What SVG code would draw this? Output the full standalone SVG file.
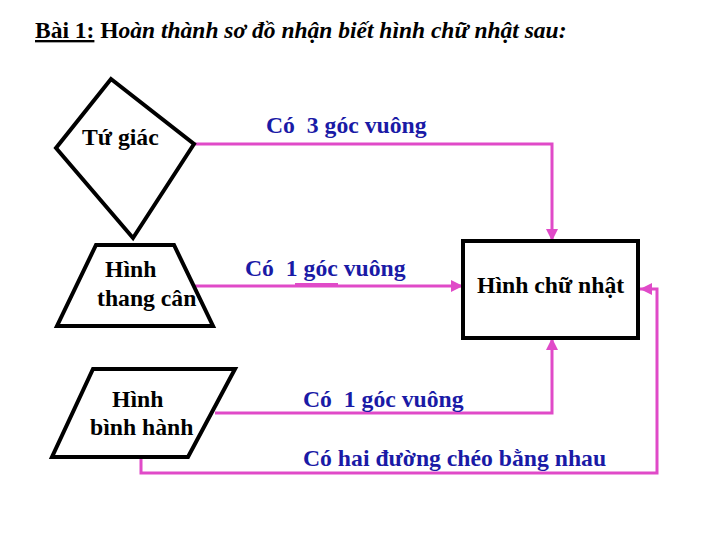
<svg xmlns="http://www.w3.org/2000/svg" width="720" height="540" viewBox="0 0 720 540">
<defs>
<style>
.shape{fill:#fff;stroke:#000;stroke-width:4;stroke-linejoin:miter}
.lbl{font-family:"Liberation Serif","Times New Roman",serif;font-weight:bold;font-size:23.7px;fill:#000}
.blue{font-family:"Liberation Serif","Times New Roman",serif;font-weight:bold;font-size:23.7px;fill:#1a1aa6}
.con{fill:none;stroke:#e04ac8;stroke-width:3}
</style>
<marker id="ah" markerUnits="userSpaceOnUse" markerWidth="12" markerHeight="12" viewBox="0 0 10 10" refX="10" refY="5" orient="auto">
<path d="M0,0 L10,5 L0,10 Z" fill="#e04ac8"/>
</marker>
</defs>
<rect width="720" height="540" fill="#fff"/>
<text x="35" y="38" font-family="Liberation Serif, Times New Roman, serif" font-weight="bold" font-size="23.5" fill="#000"><tspan text-decoration="underline">Bài 1:</tspan> H<tspan font-style="italic">oàn thành sơ đồ nhận biết hình chữ nhật sau:</tspan></text>
<g id="connectors">
<path class="con" d="M194,144 H552 V241" marker-end="url(#ah)"/>
<path class="con" d="M192,286 H463" marker-end="url(#ah)"/>
<line x1="295" y1="284" x2="338" y2="284" stroke="#e04ac8" stroke-width="2"/>
<path class="con" d="M215,413 H552 V338" marker-end="url(#ah)"/>
<path class="con" d="M141,457 V473 H657 V289 H640" marker-end="url(#ah)"/>
</g>
<g id="tu-giac">
<polygon class="shape" points="111,79 194,144 133,238 56,148"/>
<text class="lbl" x="82" y="145">Tứ giác</text>
</g>
<g id="hinh-thang-can">
<polygon class="shape" points="96,245 174,245 213,326 57,326"/>
<text class="lbl" x="105" y="277">Hình</text>
<text class="lbl" x="97" y="306">thang cân</text>
</g>
<g id="hinh-binh-hanh">
<polygon class="shape" points="93,369 235,369 188,457 52,457"/>
<text class="lbl" x="112" y="407">Hình</text>
<text class="lbl" x="90" y="435">bình hành</text>
</g>
<g id="hinh-chu-nhat">
<rect class="shape" x="463" y="241" width="175" height="97"/>
<text class="lbl" x="477" y="293">Hình chữ nhật</text>
</g>
<g id="labels">
<text class="blue" x="266" y="133" xml:space="preserve">Có  3 góc vuông</text>
<text class="blue" x="245" y="276" xml:space="preserve">Có  1 góc vuông</text>
<text class="blue" x="303" y="407" xml:space="preserve">Có  1 góc vuông</text>
<text class="blue" x="303" y="466">Có hai đường chéo bằng nhau</text>
</g>
</svg>
